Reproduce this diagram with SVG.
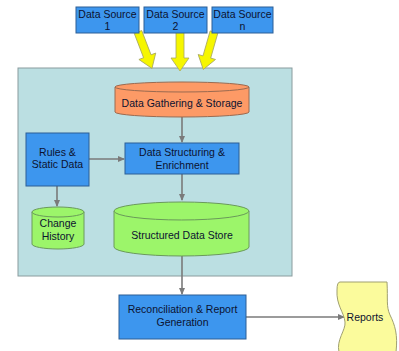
<svg xmlns="http://www.w3.org/2000/svg" width="399" height="351" viewBox="0 0 399 351">
<style>
text{font-family:"Liberation Sans",Arial,sans-serif;font-size:10.5px;fill:#0c1230;text-anchor:middle}
.box{fill:#3d96ee;stroke:#2c5f96;stroke-width:1}
.org{fill:#fd9a66;stroke:#9a6a50;stroke-width:1}
.grn{fill:#9cf56a;stroke:#6a9a5a;stroke-width:1}
.yarr{fill:#f6f600;stroke:#a8a860;stroke-width:0.8}
.con{stroke:#7a7a7a;stroke-width:1.6;fill:none}
</style>
<defs>
<marker id="ah" markerWidth="8" markerHeight="8" refX="6" refY="4" orient="auto" markerUnits="userSpaceOnUse">
<path d="M0,1 L7,4 L0,7 Z" fill="#7a7a7a"/>
</marker>
<polygon id="ya" points="-4,0 4,0 4,26 9,26 0,39 -9,26 -4,26"/>
</defs>
<rect x="0" y="0" width="399" height="351" fill="#ffffff"/>
<rect id="panel" x="18" y="68" width="274" height="208" fill="#bbdfe2" stroke="#8a9c9e" stroke-width="1"/>

<g id="connectors">
<use href="#ya" class="yarr" transform="translate(138,32) rotate(-21)"/>
<use href="#ya" class="yarr" transform="translate(180,32)"/>
<use href="#ya" class="yarr" transform="translate(214,32) rotate(16)"/>
<line class="con" x1="182" y1="117" x2="182" y2="142" marker-end="url(#ah)"/>
<line class="con" x1="89" y1="159" x2="124" y2="159" marker-end="url(#ah)"/>
<line class="con" x1="182" y1="174" x2="182" y2="200" marker-end="url(#ah)"/>
<line class="con" x1="57" y1="186" x2="57" y2="206" marker-end="url(#ah)"/>
<line class="con" x1="182" y1="256" x2="182" y2="294" marker-end="url(#ah)"/>
<line class="con" x1="246" y1="317" x2="344" y2="317" marker-end="url(#ah)"/>
</g>

<g id="src1"><rect class="box" x="76" y="7" width="63" height="26"/><text x="107.5" y="18">Data Source</text><text x="107.5" y="30">1</text></g>
<g id="src2"><rect class="box" x="144" y="7" width="63" height="26"/><text x="175.5" y="18">Data Source</text><text x="175.5" y="30">2</text></g>
<g id="srcn"><rect class="box" x="212" y="7" width="61" height="26"/><text x="242.5" y="18">Data Source</text><text x="242.5" y="30">n</text></g>

<g id="gather">
<path class="org" d="M115,87 V112 A67,5 0 0 0 249,112 V87 A67,5 0 0 0 115,87 Z"/>
<path class="org" d="M115,87 A67,5 0 0 0 249,87" fill="none"/>
<text x="182" y="107">Data Gathering &amp; Storage</text>
</g>

<g id="rules"><rect class="box" x="26" y="133" width="63" height="53"/><text x="57.5" y="156">Rules &amp;</text><text x="57.5" y="168">Static Data</text></g>

<g id="structuring"><rect class="box" x="125" y="143" width="114" height="31"/><text x="182" y="156">Data Structuring &amp;</text><text x="182" y="169">Enrichment</text></g>

<g id="history">
<path class="grn" d="M32,212 V244 A26,5 0 0 0 84,244 V212 A26,5 0 0 0 32,212 Z"/>
<path class="grn" d="M32,212 A26,5 0 0 0 84,212" fill="none"/>
<text x="58" y="227">Change</text><text x="58" y="240">History</text>
</g>

<g id="store">
<path class="grn" d="M114,211 V247 A67.5,9 0 0 0 249,247 V211 A67.5,9 0 0 0 114,211 Z"/>
<path class="grn" d="M114,211 A67.5,9 0 0 0 249,211" fill="none"/>
<text x="182" y="239">Structured Data Store</text>
</g>

<g id="recon"><rect class="box" x="119" y="295" width="127" height="44"/><text x="182.5" y="313">Reconciliation &amp; Report</text><text x="182.5" y="326">Generation</text></g>

<g id="reports">
<path d="M340,282 H387 C388,300 386,306 390,315 C395,325 398,335 396,352 H339 C336,340 346,330 345,322 C344,312 336,305 337,290 Q337,282 340,282 Z" fill="#fbfb9c" stroke="#a0a070" stroke-width="1"/>
<text x="365" y="321">Reports</text>
</g>
</svg>
